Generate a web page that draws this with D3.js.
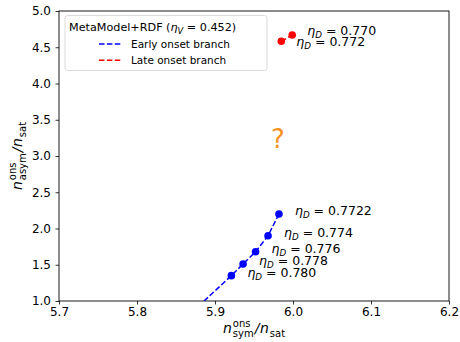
<!DOCTYPE html>
<html>
<head>
<meta charset="utf-8">
<script src="https://cdn.jsdelivr.net/npm/d3@7"></script>
<style>
  body { margin: 0; background: #fff; }
  svg { font-family: "DejaVu Sans", sans-serif; }
</style>
</head>
<body>
<div id="chart"></div>
<script>
// onset densities
const earlyX = [5.982, 5.968, 5.952, 5.936, 5.921];
const earlyY = [2.20, 1.90, 1.68, 1.51, 1.35];
const earlyEta = ["0.7722", "0.774", "0.776", "0.778", "0.780"];
// where the dashed early branch leaves the axes
const earlyTailX = [5.886];
const earlyTailY = [1.0];

const lateX = [5.985, 5.999];
const lateY = [4.582, 4.669];
const lateEta = ["0.772", "0.770"];

const xTicks = [5.7, 5.8, 5.9, 6.0, 6.1, 6.2];
const yTicks = [1.0, 1.5, 2.0, 2.5, 3.0, 3.5, 4.0, 4.5, 5.0];

const width = 460, height = 342;
const margin = { left: 59, right: 11, top: 11, bottom: 41 };

const svg = d3.select("#chart").append("svg")
    .attr("width", width)
    .attr("height", height);

const x = d3.scaleLinear().domain([5.7, 6.2]).range([margin.left, width - margin.right]);
const y = d3.scaleLinear().domain([1.0, 5.0]).range([height - margin.bottom, margin.top]);

// clip for lines
svg.append("defs").append("clipPath").attr("id", "plotclip")
    .append("rect")
    .attr("x", x.range()[0]).attr("y", y.range()[1])
    .attr("width", x.range()[1] - x.range()[0])
    .attr("height", y.range()[0] - y.range()[1]);

// axes
const xAxis = d3.axisBottom(x).tickValues(xTicks).tickFormat(d3.format(".1f")).tickSizeOuter(0).tickSize(3.5).tickPadding(2.5);
const yAxis = d3.axisLeft(y).tickValues(yTicks).tickFormat(d3.format(".1f")).tickSizeOuter(0).tickSize(3.5).tickPadding(4.5);

const gx = svg.append("g").attr("transform", `translate(0,${y.range()[0]})`).call(xAxis);
const gy = svg.append("g").attr("transform", `translate(${x.range()[0]},0)`).call(yAxis);
[gx, gy].forEach(g => {
    g.select(".domain").remove();
    g.selectAll("text").attr("font-size", 12).attr("fill", "#000").attr("font-family", "DejaVu Sans");
    g.selectAll("line").attr("stroke", "#000").attr("stroke-width", 0.8);
});

// frame
svg.append("rect")
    .attr("x", x.range()[0]).attr("y", y.range()[1])
    .attr("width", x.range()[1] - x.range()[0])
    .attr("height", y.range()[0] - y.range()[1])
    .attr("fill", "none").attr("stroke", "#000").attr("stroke-width", 0.9);

const plot = svg.append("g").attr("clip-path", "url(#plotclip)");

const line = d3.line().x(d => x(d[0])).y(d => y(d[1]));

const earlyPts = d3.zip(earlyX, earlyY);
const earlyLine = earlyPts.concat(d3.zip(earlyTailX, earlyTailY));
const latePts = d3.zip(lateX, lateY);

plot.append("path")
    .datum(earlyLine)
    .attr("d", line)
    .attr("fill", "none")
    .attr("stroke", "blue")
    .attr("stroke-width", 1.5)
    .attr("stroke-dasharray", "5.5,2.4");

plot.append("path")
    .datum(latePts)
    .attr("d", line)
    .attr("fill", "none")
    .attr("stroke", "red")
    .attr("stroke-width", 1.5)
    .attr("stroke-dasharray", "5.5,2.4");

svg.append("g").selectAll("circle")
    .data(earlyPts)
    .join("circle")
    .attr("cx", d => x(d[0])).attr("cy", d => y(d[1]))
    .attr("r", 3.8).attr("fill", "blue");

svg.append("g").selectAll("circle")
    .data(latePts)
    .join("circle")
    .attr("cx", d => x(d[0])).attr("cy", d => y(d[1]))
    .attr("r", 3.8).attr("fill", "red");

// eta_D labels
function etaLabel(px, py, val, fs) {
    const t = svg.append("text")
        .attr("x", px).attr("y", py)
        .attr("font-size", fs).attr("fill", "#000");
    t.append("tspan").attr("font-style", "italic").text("η");
    t.append("tspan").attr("font-style", "italic").attr("font-size", fs * 0.7).attr("dy", 3).text("D");
    t.append("tspan").attr("dy", -3).text(" = " + val);
    return t;
}

earlyPts.forEach((d, i) => etaLabel(x(d[0]) + 16, y(d[1]) + 1, earlyEta[i], 12.5));
latePts.forEach((d, i) => etaLabel(x(d[0]) + 15, y(d[1]) + (i === 0 ? 5 : 0), lateEta[i], 12.5));

// question mark
svg.append("text")
    .attr("x", 278).attr("y", 148)
    .attr("text-anchor", "middle")
    .attr("font-size", 26)
    .attr("fill", "#f7931e")
    .text("?");

// legend
const leg = svg.append("g");
leg.append("rect")
    .attr("x", 65).attr("y", 15.5)
    .attr("width", 202).attr("height", 55)
    .attr("rx", 2.5)
    .attr("fill", "#fff").attr("fill-opacity", 0.8)
    .attr("stroke", "#d6d6d6").attr("stroke-width", 0.9);

const title = leg.append("text")
    .attr("x", 69).attr("y", 31)
    .attr("font-size", 11.2).attr("fill", "#000");
title.append("tspan").text("MetaModel+RDF (");
title.append("tspan").attr("font-style", "italic").text("η");
title.append("tspan").attr("font-style", "italic").attr("font-size", 8.3).attr("dy", 2.5).text("V");
title.append("tspan").attr("dy", -2.5).text(" = 0.452)");

const legendItems = [
    { label: "Early onset branch", color: "blue" },
    { label: "Late onset branch", color: "red" }
];
legendItems.forEach((it, i) => {
    const yy = 44 + i * 16.3;
    leg.append("line")
        .attr("x1", 99).attr("x2", 122)
        .attr("y1", yy).attr("y2", yy)
        .attr("stroke", it.color).attr("stroke-width", 1.5)
        .attr("stroke-dasharray", "5.5,2.4");
    leg.append("text")
        .attr("x", 131).attr("y", yy + 3.8)
        .attr("font-size", 10.5).attr("fill", "#000")
        .text(it.label);
});

// axis labels with stacked super/subscripts
function fracLabel(g, sup, sub) {
    const fs = 14, ss = 10;
    let cx = 0;
    const put = (txt, size, dy, italic) => {
        const t = g.append("text").attr("x", cx).attr("y", dy)
            .attr("font-size", size).attr("fill", "#000")
            .attr("font-style", italic ? "italic" : "normal").text(txt);
        return t.node().getComputedTextLength();
    };
    cx += put("n", fs, 0, true) + 1;
    const w1 = put(sup, ss, -6, false);
    const w2 = put(sub, ss, 3.5, false);
    cx += Math.max(w1, w2) + 1;
    cx += put("/", fs, 0, true) + 0.5;
    cx += put("n", fs, 0, true) + 1;
    cx += put("sat", ss, 3.5, false);
    return cx;
}

const xl = svg.append("g");
const xlW = fracLabel(xl, "ons", "sym");
xl.attr("transform", `translate(${254 - xlW / 2},333)`);

const yl = svg.append("g");
const ylW = fracLabel(yl, "ons", "asym");
yl.attr("transform", `translate(22,${156 + ylW / 2}) rotate(-90)`);
</script>
</body>
</html>
